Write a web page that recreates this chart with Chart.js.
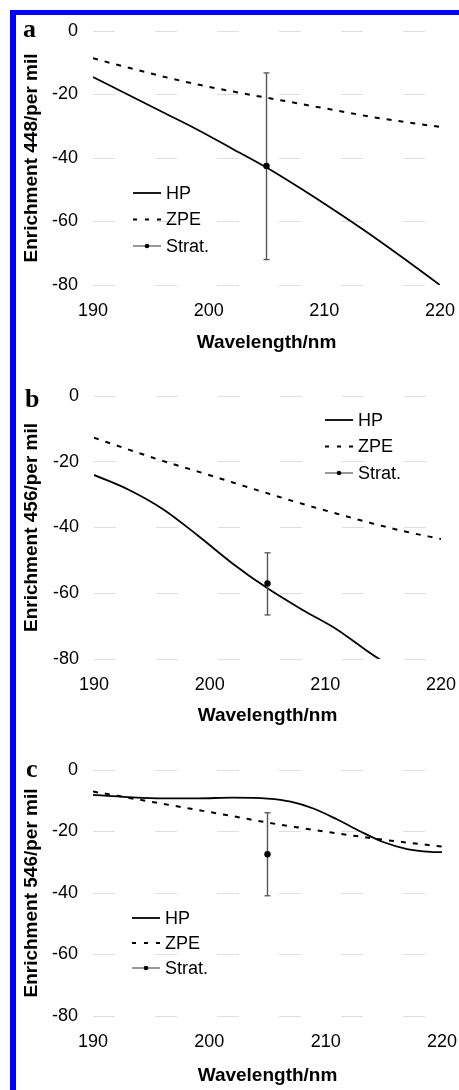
<!DOCTYPE html>
<html>
<head>
<meta charset="utf-8">
<script src="https://cdn.jsdelivr.net/npm/chart.js@4.4.0/dist/chart.umd.min.js"></script>
<style>
  html, body { margin: 0; padding: 0; background: #fff; overflow: hidden; }
  body { width: 459px; height: 1090px; position: relative; }
  .frame { position: absolute; left: 10px; top: 10px; right: 0; bottom: 0;
           border-top: 5px solid #0000ff; border-left: 6px solid #0000ff; }
  canvas { position: absolute; left: 0; }
</style>
</head>
<body>
<div class="frame"></div>
<canvas id="chartA" width="459" height="360" style="top:0"></canvas>
<canvas id="chartB" width="459" height="373" style="top:360px"></canvas>
<canvas id="chartC" width="459" height="368" style="top:725px"></canvas>

<script>
// shared axis ticks
const xTicks = [190, 200, 210, 220]
const yTicks = [0, -20, -40, -60, -80]

// panel a (448)
const hpWavelengthA = [190, 193, 196, 199, 202, 205, 208, 211, 214, 217, 220]
const hpA = [-14.5, -20, -25.5, -31, -37, -43, -49.7, -56.8, -64.2, -72, -80]
const zpeWavelengthA = [190, 193, 196, 199, 202, 205, 208, 211, 214, 217, 220]
const zpeA = [-8.6, -11.5, -14.3, -16.8, -19, -21, -23, -25, -27, -28.7, -30.2]

// panel b (456) - HP runs off the bottom of the axis
const hpWavelengthB = [190, 193, 196, 199, 202, 205, 208, 211, 214, 216]
const hpB = [-24, -28.5, -34.5, -42.5, -51, -58.5, -65, -71, -78.5, -83]
const zpeWavelengthB = [190, 193, 196, 199, 202, 205, 208, 211, 214, 217, 220]
const zpeB = [-12.7, -16.3, -19.8, -23, -26.3, -29.6, -32.8, -35.8, -38.7, -41.3, -43.5]

// panel c (546)
const hpWavelengthC = [190, 193, 196, 199, 202, 205, 207, 209, 211, 213, 215, 217, 219, 220]
const hpC = [-8.1, -8.8, -9.2, -9.2, -9, -9.3, -10.3, -12.6, -16.1, -20, -23.5, -25.7, -26.6, -26.7]
const zpeWavelengthC = [190, 193, 196, 199, 202, 205, 208, 211, 214, 217, 220]
const zpeC = [-7, -9, -11, -13, -15, -17.1, -18.9, -20.6, -22.2, -23.6, -24.9]

// stratospheric measurement with error bar (a, b, c)
const stratWavelength = 205
const stratValues = [-42.5, -57, -27.4]
const stratUpper = [-13.2, -47.7, -13.9]
const stratLower = [-72, -66.6, -40.9]

const yTitles = ['Enrichment 448/per mil', 'Enrichment 456/per mil', 'Enrichment 546/per mil']
const panelLetters = ['a', 'b', 'c']

const SANS = '"Liberation Sans", Arial, sans-serif'
const ERR_COLOR = '#555'

const toPoints = (xs, ys) => xs.map((x, i) => ({ x: x, y: ys[i] }))

// panel letter + in-plot legend
const panelDecor = {
  id: 'panelDecor',
  afterDraw(chart, args, opts) {
    const ctx = chart.ctx
    ctx.save()
    ctx.fillStyle = '#000'
    ctx.font = 'bold 26px "Liberation Serif", "Times New Roman", serif'
    ctx.textBaseline = 'alphabetic'
    ctx.fillText(opts.letter, opts.letterX, opts.letterY)

    ctx.font = '18px ' + SANS
    ctx.textBaseline = 'middle'
    let y = opts.legendY
    chart.data.datasets.forEach(ds => {
      if (!ds.label) return
      const x0 = opts.legendX
      ctx.beginPath()
      ctx.setLineDash(ds.legendDash || [])
      ctx.lineWidth = ds.legendWidth || ds.borderWidth
      ctx.strokeStyle = ds.legendColor || ds.borderColor
      ctx.moveTo(x0, y)
      ctx.lineTo(x0 + 28, y)
      ctx.stroke()
      ctx.setLineDash([])
      if (ds.legendDot) {
        ctx.beginPath()
        ctx.fillStyle = '#000'
        ctx.arc(x0 + 14, y, 2.3, 0, Math.PI * 2)
        ctx.fill()
      }
      ctx.fillStyle = '#000'
      ctx.fillText(ds.label, x0 + 33, y + 1)
      y += opts.legendGap
    })
    ctx.restore()
  }
}

function buildPanel(id, i, hpX, hpY, zpeX, zpeY, box) {
  new Chart(document.getElementById(id), {
    type: 'line',
    data: {
      datasets: [
        {
          label: 'HP',
          data: toPoints(hpX, hpY),
          borderColor: '#000',
          borderWidth: 1.8,
          pointRadius: 0,
          cubicInterpolationMode: 'monotone',
          order: 2
        },
        {
          label: 'ZPE',
          data: toPoints(zpeX, zpeY),
          borderColor: '#000',
          borderWidth: 2,
          borderDash: [5, 7],
          legendDash: [4, 8],
          pointRadius: 0,
          cubicInterpolationMode: 'monotone',
          order: 3
        },
        {
          label: 'Strat.',
          data: [{ x: stratWavelength, y: stratValues[i] }],
          showLine: false,
          pointRadius: 2.6,
          pointBackgroundColor: '#000',
          pointBorderColor: '#000',
          borderColor: ERR_COLOR,
          borderWidth: 1.2,
          legendDot: true,
          order: 0
        },
        {
          label: '',
          data: [{ x: stratWavelength, y: stratUpper[i] }, { x: stratWavelength, y: stratLower[i] }],
          borderColor: ERR_COLOR,
          borderWidth: 1.4,
          pointStyle: 'line',
          pointRadius: 3,
          pointBorderColor: ERR_COLOR,
          pointBorderWidth: 1.3,
          order: 1
        }
      ]
    },
    options: {
      responsive: false,
      animation: false,
      events: [],
      layout: { padding: { left: 0, top: box.top, right: 459 - box.right, bottom: 0 } },
      plugins: {
        legend: { display: false },
        tooltip: { enabled: false },
        panelDecor: {
          letter: panelLetters[i],
          letterX: box.letterX, letterY: box.letterY,
          legendX: box.legendX, legendY: box.legendY, legendGap: box.legendGap
        }
      },
      scales: {
        x: {
          type: 'linear',
          min: xTicks[0],
          max: xTicks[xTicks.length - 1],
          afterBuildTicks: s => { s.ticks = xTicks.map(v => ({ value: v })) },
          afterFit: s => {
            s.height = box.height - box.bottom
            s.paddingLeft = 0
            s.paddingRight = 0
          },
          grid: { display: false, drawTicks: false },
          border: { display: false },
          ticks: { color: '#000', font: { family: SANS, size: 18 }, padding: 15, maxRotation: 0 },
          title: {
            display: true,
            text: 'Wavelength/nm',
            color: '#000',
            font: { family: SANS, size: 19, weight: 'bold' },
            padding: { top: 0, bottom: 6 }
          }
        },
        y: {
          min: yTicks[yTicks.length - 1],
          max: yTicks[0],
          afterBuildTicks: s => { s.ticks = yTicks.map(v => ({ value: v })) },
          afterFit: s => {
            s.width = box.left
            s.paddingTop = 0
            s.paddingBottom = 0
          },
          grid: { color: 'rgba(0,0,0,0.13)', lineWidth: 1, drawTicks: false },
          border: { display: false, dash: [22, 40] },
          ticks: { color: '#000', font: { family: SANS, size: 18 }, padding: 15 },
          title: {
            display: true,
            text: yTitles[i],
            color: '#000',
            font: { family: SANS, size: 19, weight: 'bold' },
            padding: { top: 20, bottom: 0 }
          }
        }
      }
    },
    plugins: [panelDecor]
  })
}

buildPanel('chartA', 0, hpWavelengthA, hpA, zpeWavelengthA, zpeA,
  { top: 31, bottom: 285, left: 93, right: 440, height: 360,
    letterX: 23, letterY: 37, legendX: 133, legendY: 193, legendGap: 26.5 })
buildPanel('chartB', 1, hpWavelengthB, hpB, zpeWavelengthB, zpeB,
  { top: 36, bottom: 299, left: 94, right: 441, height: 373,
    letterX: 25, letterY: 47, legendX: 325, legendY: 60, legendGap: 26.5 })
buildPanel('chartC', 2, hpWavelengthC, hpC, zpeWavelengthC, zpeC,
  { top: 45, bottom: 291, left: 93, right: 442, height: 368,
    letterX: 26, letterY: 52, legendX: 132, legendY: 193, legendGap: 25 })
</script>
</body>
</html>
